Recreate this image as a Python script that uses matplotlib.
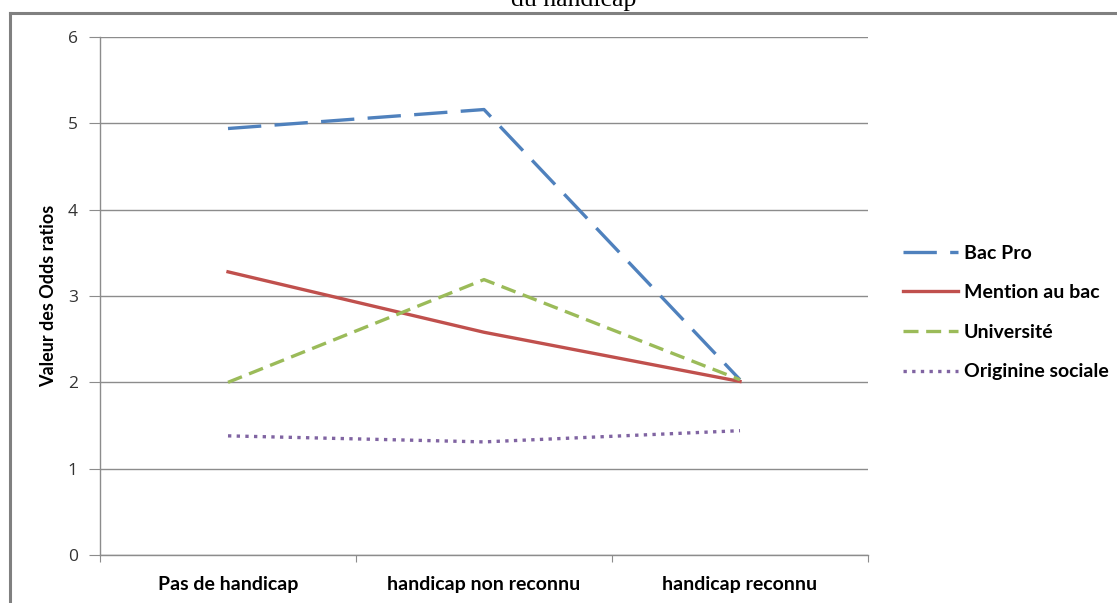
import matplotlib
matplotlib.use("Agg")
import matplotlib.pyplot as plt
from matplotlib.lines import Line2D
import numpy as np

categories = ["Pas de handicap", "handicap non reconnu", "handicap reconnu"]
series_names = ["Bac Pro", "Mention au bac", "Université", "Originine sociale"]
bac_pro = [4.94, 5.16, 2.03]
mention_bac = [3.28, 2.58, 2.01]
universite = [2.00, 3.19, 2.03]
origine_sociale = [1.38, 1.31, 1.44]
y_ticks = [0, 1, 2, 3, 4, 5, 6]

colors = ["#4F81BD", "#C0504D", "#9BBB59", "#8064A2"]
W, H = 1117, 603
fig = plt.figure(figsize=(W / 100, H / 100), dpi=100)

# outer frame
fig.add_artist(Line2D([10 / W, 10 / W], [0, (H - 13) / H], color="#808080", lw=2.2, transform=fig.transFigure))
fig.add_artist(Line2D([10 / W, 1], [(H - 13) / H, (H - 13) / H], color="#808080", lw=2.2, transform=fig.transFigure))

fig.text(574 / W, (H - 6) / H, "du handicap", family="Liberation Serif", fontsize=18.5,
         ha="center", va="baseline", color="black")

ax = fig.add_axes([100 / W, (H - 555) / H, (868 - 100) / W, (555 - 37) / H])
x = np.arange(len(categories)) + 0.5

lw = 2.4
ax.plot(x, bac_pro, color=colors[0], lw=lw, dashes=(10, 4), label=series_names[0])
ax.plot(x, mention_bac, color=colors[1], lw=lw, label=series_names[1])
ax.plot(x, universite, color=colors[2], lw=lw, dashes=(4.5, 2.3), label=series_names[2])
ax.plot(x, origine_sociale, color=colors[3], lw=lw, dashes=(1, 1.6), label=series_names[3])

ax.set_xlim(0, len(categories))
ax.set_ylim(0, 6)
ax.set_yticks(y_ticks)
ax.set_yticklabels([str(v) for v in y_ticks], family="Open Sans", fontsize=12.5, color="#333333")
ax.yaxis.grid(True, color="#8c8c8c", lw=1)
ax.set_axisbelow(True)

ax.set_xticks(np.arange(len(categories) + 1))
ax.set_xticklabels([])
ax.set_xticks(x, minor=True)
ax.set_xticklabels(categories, minor=True, family="Lato", fontweight="bold", fontsize=14)
ax.tick_params(axis="x", which="minor", length=0, pad=15)
ax.tick_params(axis="x", which="major", length=5, color="#8c8c8c", direction="out")
ax.tick_params(axis="y", length=8, color="#8c8c8c", direction="out", pad=8)

for s in ["top", "right"]:
    ax.spines[s].set_visible(False)
for s in ["left", "bottom"]:
    ax.spines[s].set_color("#8c8c8c")
    ax.spines[s].set_linewidth(1)

ax.set_ylabel("Valeur des Odds ratios", family="Lato", fontweight="bold", fontsize=13, labelpad=8)

leg = ax.legend(loc="center left", bbox_to_anchor=(1.035, 0.468), frameon=False,
                prop={"family": "Lato", "weight": "bold", "size": 14},
                handlelength=2.85, handletextpad=0.3, labelspacing=1.16, borderaxespad=0)

fig.savefig("out.png", dpi=100)
